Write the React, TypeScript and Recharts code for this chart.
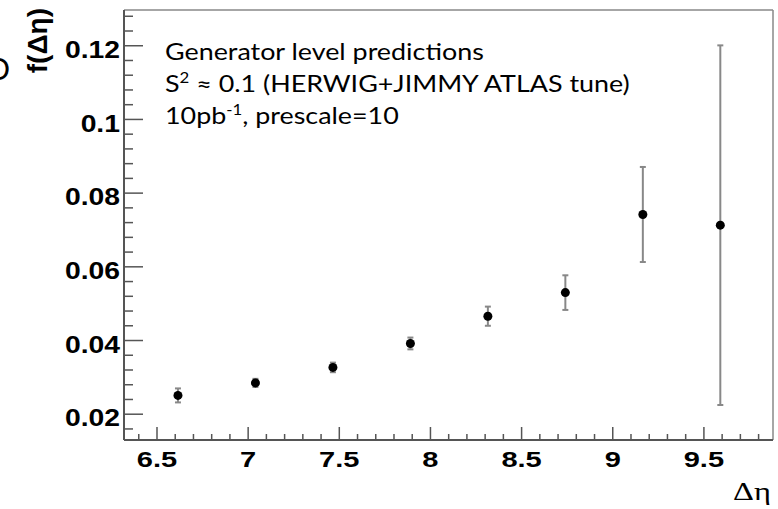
import { ErrorBar, ReferenceLine, Scatter, ScatterChart, XAxis, YAxis } from 'recharts';

// bin centres in delta-eta and the generator-level f(delta-eta) with its statistical errors
const etaCenters = [6.615, 7.04, 7.465, 7.89, 8.315, 8.74, 9.165, 9.59];
const fValues = [0.0251, 0.0285, 0.0327, 0.0392, 0.0466, 0.053, 0.0742, 0.0713];
const fErrors = [0.0019, 0.0011, 0.0013, 0.0016, 0.0026, 0.0047, 0.0129, 0.0488];

const xMajorLabels = [6.5, 7, 7.5, 8, 8.5, 9, 9.5];
const yMajorLabels = [0.02, 0.04, 0.06, 0.08, 0.1, 0.12];

const xDomain: [number, number] = [6.319, 9.879];
const yDomain: [number, number] = [0.013, 0.1297];

// minor ticks every 0.1 / 0.004 across the frame
const xTicks = Array.from({ length: 35 }, (_, i) => +(6.4 + i * 0.1).toFixed(2));
const yTicks = Array.from({ length: 29 }, (_, i) => +(0.016 + i * 0.004).toFixed(3));

const points = etaCenters.map((eta, i) => ({ eta, f: fValues[i], err: fErrors[i] }));

const tickFont = '"Liberation Sans", Arial, Helvetica, sans-serif';
const noteFont = 'Lato, "Open Sans", sans-serif';

const isMajor = (v: number, list: number[]) => list.some((m) => Math.abs(m - v) < 1e-6);

// the original picture is stretched sideways, so the texts get a horizontal scale
const stretch = (x: number, sx: number) => `translate(${x},0) scale(${sx},1) translate(${-x},0)`;

function XTick({ x, y, payload }: any) {
  const v = payload.value as number;
  const major = isMajor(v, xMajorLabels);
  return (
    <g>
      <line x1={x} x2={x} y1={y} y2={y - (major ? 13 : 6)} stroke="#555" strokeWidth={1.5} />
      {major && (
        <text
          x={x}
          y={y + 19}
          transform={stretch(x, 1.32)}
          textAnchor="middle"
          dominantBaseline="central"
          fontFamily={tickFont}
          fontWeight="bold"
          fontSize={22}
          fill="#000"
        >
          {String(v)}
        </text>
      )}
    </g>
  );
}

function YTick({ x, y, payload }: any) {
  const v = payload.value as number;
  const major = isMajor(v, yMajorLabels);
  return (
    <g>
      <line x1={x} x2={x + (major ? 19 : 9)} y1={y} y2={y} stroke="#555" strokeWidth={1.5} />
      {major && (
        <text
          x={x - 4}
          y={y + 4}
          transform={stretch(x - 4, 1.18)}
          textAnchor="end"
          dominantBaseline="central"
          fontFamily={tickFont}
          fontWeight="bold"
          fontSize={24}
          fill="#000"
        >
          {String(v)}
        </text>
      )}
    </g>
  );
}

const Dot = (props: any) => <circle cx={props.cx} cy={props.cy} r={4.5} fill="#000" />;

export default function App() {
  return (
    <div style={{ position: 'absolute', left: 0, top: 0, width: 778, height: 509, background: '#fff' }}>
      <ScatterChart width={778} height={509} margin={{ top: 10, right: 5, bottom: 39, left: 64 }}>
        <XAxis
          type="number"
          dataKey="eta"
          domain={xDomain}
          allowDataOverflow
          ticks={xTicks}
          interval={0}
          tickSize={0}
          tickMargin={0}
          tickLine={false}
          tick={<XTick />}
          height={30}
          axisLine={{ stroke: '#555', strokeWidth: 2 }}
        />
        <YAxis
          type="number"
          dataKey="f"
          domain={yDomain}
          allowDataOverflow
          ticks={yTicks}
          interval={0}
          tickSize={0}
          tickMargin={0}
          tickLine={false}
          tick={<YTick />}
          width={60}
          axisLine={{ stroke: '#555', strokeWidth: 2 }}
        />
        <ReferenceLine y={yDomain[1]} stroke="#888" strokeWidth={1.5} />
        <ReferenceLine x={xDomain[1]} stroke="#888" strokeWidth={1.5} />
        <Scatter data={points} shape={<Dot />} isAnimationActive={false}>
          <ErrorBar dataKey="err" direction="y" width={3} stroke="#888" strokeWidth={2} />
        </Scatter>
      </ScatterChart>
      <svg
        width={778}
        height={509}
        style={{ position: 'absolute', left: 0, top: 0, pointerEvents: 'none' }}
      >
        <text x={-14} y={80} fontFamily={noteFont} fontSize={30} fill="#000">
          O
        </text>
        <text
          transform="translate(47, 8) rotate(-90)"
          textAnchor="end"
          fontFamily={tickFont}
          fontWeight="bold"
          fontSize={28}
          fill="#000"
        >
          f(Δη)
        </text>
        <g fontFamily={noteFont} fontSize={24} fill="#000" transform={stretch(165, 1.12)}>
          <text x={165} y={60}>Generator level predictions</text>
          <text x={165} y={92}>
            S<tspan dy={-9} fontSize={15}>2</tspan>
            <tspan dy={9}> ≈ 0.1 (HERWIG+JIMMY ATLAS tune)</tspan>
          </text>
          <text x={165} y={124}>
            10pb<tspan dy={-9} fontSize={15}>-1</tspan>
            <tspan dy={9}>, prescale=10</tspan>
          </text>
        </g>
        <text
          x={733}
          y={500}
          transform={stretch(733, 1.25)}
          fontFamily='"Liberation Serif", "DejaVu Serif", serif'
          fontSize={26}
          fill="#000"
        >
          Δη
        </text>
      </svg>
    </div>
  );
}
